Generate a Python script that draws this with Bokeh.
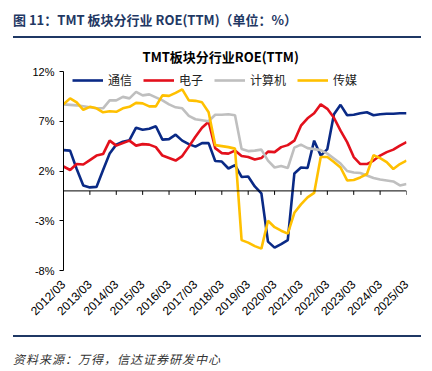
import math
from bokeh.plotting import figure
from bokeh.models import (Range1d, FixedTicker, PrintfTickFormatter, Span,
                          Legend, LegendItem, Div)
from bokeh.layouts import column
from bokeh.embed import file_html
from bokeh.resources import INLINE

# ---- data (quarterly, 2012/03 .. 2025/03) ----
tick_labels = ["2012/03", "2013/03", "2014/03", "2015/03", "2016/03", "2017/03", "2018/03",
               "2019/03", "2020/03", "2021/03", "2022/03", "2023/03", "2024/03", "2025/03"]

tongxin = [4.1, 4.05, 2.2, 0.55, 0.35, 0.4, 2.1, 3.75, 4.65, 4.95,
           5.1, 6.35, 6.15, 6.25, 6.5, 5.15, 5.2, 5.65, 5.05, 4.7,
           4.45, 4.8, 4.8, 3.0, 2.95, 2.25, 2.6, 1.4, 1.45, 0.45,
           -0.25, -5.1, -5.7, -5.35, -4.95, 1.75, 2.35, 2.3, 5.05, 3.55,
           4.2, 7.7, 8.65, 7.6, 7.65, 7.8, 7.9, 7.6, 7.7, 7.75,
           7.75, 7.8, 7.8]
dianzi = [2.45, 2.1, 2.7, 2.65, 3.1, 3.55, 3.7, 5.05, 4.55, 4.8,
          5.05, 4.55, 4.7, 4.65, 4.4, 3.55, 3.3, 3.05, 3.5, 4.45,
          5.45, 6.35, 6.95, 4.3, 3.8, 3.75, 4.05, 3.5, 3.4, 3.15,
          3.3, 3.95, 3.9, 4.4, 4.6, 5.05, 6.55, 7.3, 7.8, 8.7,
          8.25, 7.35, 6.05, 4.9, 3.4, 2.7, 2.7, 3.05, 3.55, 3.9,
          4.15, 4.55, 4.9]
jisuanji = [8.7, 8.65, 8.6, 8.5, 8.4, 8.3, 8.3, 9.1, 9.1, 9.45,
            9.3, 9.95, 9.6, 9.7, 9.4, 9.1, 8.7, 8.4, 8.3, 7.55,
            7.2, 7.1, 7.0, 7.65, 7.65, 7.7, 7.6, 4.2, 4.0, 4.05,
            4.15, 3.05, 2.35, 2.5, 2.3, 4.35, 4.65, 4.3, 4.2, 4.1,
            3.75, 3.25, 2.75, 2.0, 1.85, 1.8, 1.55, 1.3, 1.15, 1.05,
            0.95, 0.55, 0.7]
chuanmei = [8.7, 9.3, 8.9, 8.15, 8.45, 8.3, 7.9, 8.0, 7.95, 8.3,
            8.45, 8.85, 8.8, 8.5, 8.5, 9.6, 9.55, 9.85, 10.2, 9.1,
            9.05, 8.9, 7.9, 4.6, 4.5, 4.4, 4.25, -4.95, -5.2, -5.55,
            -5.8, -3.0, -3.65, -4.0, -4.3, -2.2, -1.35, -0.65, -0.2, 3.4,
            3.4, 2.9, 2.35, 1.05, 1.1, 1.35, 1.7, 3.6, 3.3, 2.9,
            2.2, 2.7, 3.05]

series_names = ["通信", "电子", "计算机", "传媒"]
series_values = [tongxin, dianzi, jisuanji, chuanmei]
series_colors = ["#0A2A86", "#E3101C", "#BFBFBF", "#FFC000"]
y_ticks = [-8, -3, 2, 7, 12]

x = list(range(len(tongxin)))
x_ticks = [4 * i for i in range(len(tick_labels))]

FONT = "Liberation Sans"
CJK = "Noto Sans CJK SC"

p = figure(width=424, height=297, output_backend="svg", toolbar_location=None,
           x_range=Range1d(0, x[-1]), y_range=Range1d(-8, 12),
           min_border_left=63, min_border_right=18, min_border_top=33, min_border_bottom=65)
p.outline_line_color = None
p.grid.visible = False

p.title.text = "TMT板块分行业ROE(TTM)"
p.title.align = "left"
p.title.offset = 79
p.title.standoff = 12
p.title.text_font = CJK
p.title.text_font_size = "13px"
p.title.text_font_style = "bold"
p.title.text_color = "#000000"

# zero line with downward ticks
p.add_layout(Span(location=0, dimension="width", line_color="#000000", line_width=1))
p.segment(x0=x_ticks, y0=[0] * len(x_ticks), x1=x_ticks, y1=[-0.4] * len(x_ticks),
          line_color="#000000", line_width=1)

renderers = []
for name, vals, col in zip(series_names, series_values, series_colors):
    r = p.line(x, vals, line_color=col, line_width=2.6)
    renderers.append(r)

# y axis
p.yaxis.ticker = FixedTicker(ticks=y_ticks)
p.yaxis.formatter = PrintfTickFormatter(format="%d%%")
p.yaxis.major_tick_out = 4
p.yaxis.major_tick_in = 0
p.yaxis.minor_tick_line_color = None
p.yaxis.axis_line_color = "#000000"
p.yaxis.major_tick_line_color = "#000000"
p.yaxis.major_label_text_font = FONT
p.yaxis.major_label_text_font_size = "11px"
p.yaxis.major_label_text_color = "#000000"
p.yaxis.major_label_standoff = 5

# bottom label axis
p.xaxis.ticker = FixedTicker(ticks=x_ticks)
p.xaxis.major_label_overrides = {t: lab for t, lab in zip(x_ticks, tick_labels)}
p.xaxis.major_label_orientation = math.pi / 4
p.xaxis.axis_line_color = None
p.xaxis.major_tick_line_color = None
p.xaxis.minor_tick_line_color = None
p.xaxis.major_label_text_font = FONT
p.xaxis.major_label_text_font_size = "12px"
p.xaxis.major_label_text_color = "#000000"
p.xaxis.major_label_standoff = 6

legend = Legend(items=[LegendItem(label=n, renderers=[r]) for n, r in zip(series_names, renderers)],
                orientation="horizontal", location=(9, 182), margin=0, padding=0,
                spacing=11, glyph_width=31, glyph_height=16, label_height=16,
                label_standoff=5, border_line_color=None, background_fill_alpha=0,
                label_text_font=CJK, label_text_font_size="12px", label_text_color="#222222")
p.add_layout(legend)

header = Div(text="图 11：TMT 板块分行业 ROE(TTM)（单位：%）", width=408, height=38,
             margin=(0, 0, 0, 13),
             styles={"font-family": CJK, "font-size": "13px", "font-weight": "bold",
                     "color": "#1F3864", "border-bottom": "2px solid #1F3864",
                     "line-height": "24px", "padding-top": "8px", "box-sizing": "border-box"})
source = Div(text="资料来源：万得，信达证券研发中心", width=408, height=34,
             margin=(0, 0, 0, 13),
             styles={"font-family": CJK, "font-size": "12px", "font-style": "italic",
                     "letter-spacing": "1px",
                     "color": "#333333", "border-top": "2px solid #1F3864",
                     "line-height": "20px", "padding-top": "12px", "box-sizing": "border-box"})

layout = column(header, p, source, spacing=0)

open("out.html", "w").write(file_html(layout, INLINE))
